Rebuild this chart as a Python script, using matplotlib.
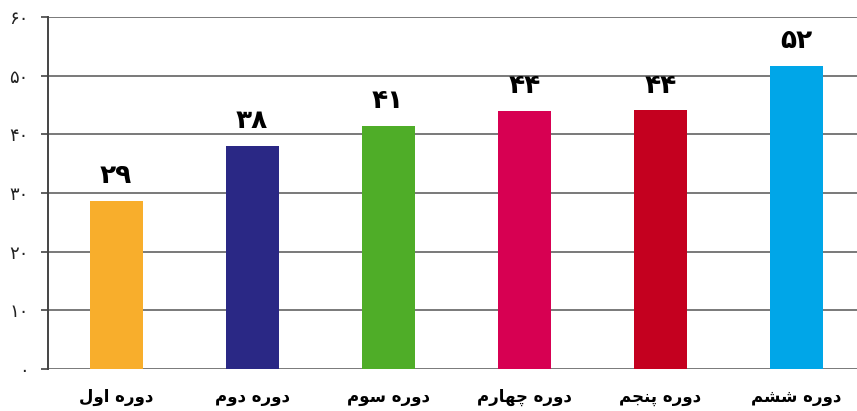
import matplotlib.pyplot as plt

periods = ['دوره اول', 'دوره دوم', 'دوره سوم', 'دوره چهارم', 'دوره پنجم', 'دوره ششم']
values = [28.6, 38.0, 41.4, 44.0, 44.1, 51.7]
colors = ['#F8AE2C', '#2A2885', '#4FAD28', '#D70052', '#C4001F', '#00A6E8']
yticks = [0, 10, 20, 30, 40, 50, 60]

# presentation forms (isolated, final, initial, medial); two-form letters do not join forward
FORMS = {
    'ا': '\uFE8D\uFE8E', 'د': '\uFEA9\uFEAA', 'ر': '\uFEAD\uFEAE', 'و': '\uFEED\uFEEE',
    'ه': '\uFEE9\uFEEA\uFEEB\uFEEC', 'ل': '\uFEDD\uFEDE\uFEDF\uFEE0',
    'م': '\uFEE1\uFEE2\uFEE3\uFEE4', 'س': '\uFEB1\uFEB2\uFEB3\uFEB4',
    'ش': '\uFEB5\uFEB6\uFEB7\uFEB8', 'ن': '\uFEE5\uFEE6\uFEE7\uFEE8',
    'ج': '\uFE9D\uFE9E\uFE9F\uFEA0', 'پ': '\uFB56\uFB57\uFB58\uFB59',
    'چ': '\uFB7A\uFB7B\uFB7C\uFB7D',
}


def shape(text):
    """join persian letters and put them in visual (left to right) order"""
    out = []
    for i, c in enumerate(text):
        if c not in FORMS:
            out.append(c)
            continue
        prev = text[i-1] if i > 0 else ''
        nxt = text[i+1] if i + 1 < len(text) else ''
        before = prev in FORMS and len(FORMS[prev]) == 4
        after = len(FORMS[c]) == 4 and nxt in FORMS
        f = FORMS[c]
        if before and after:
            out.append(f[3])
        elif after:
            out.append(f[2])
        elif before:
            out.append(f[1])
        else:
            out.append(f[0])
    return ''.join(out)[::-1]


def fa_digits(s):
    return str(s).translate(str.maketrans('0123456789', '۰۱۲۳۴۵۶۷۸۹'))


fig = plt.figure(figsize=(8.57, 4.11), dpi=100)
ax = fig.add_axes([48/857, 42/411, 1 - 48/857, 352/411])

x = range(len(values))
ax.bar(x, values, width=0.39, color=colors, zorder=3)
for i, v in enumerate(values):
    ax.text(i, v + 2.0, fa_digits(round(v)), ha='center', va='bottom',
            fontsize=19, fontweight='bold', color='black', zorder=4)

ax.set_xlim(-0.5, 5.445)
ax.set_ylim(0, 60)
ax.set_yticks(yticks)
ax.set_yticklabels([fa_digits(t) for t in yticks], fontsize=13, color='#222222')
ax.set_xticks(list(x))
ax.set_xticklabels([shape(p) for p in periods], fontsize=12, fontweight='bold')
ax.tick_params(axis='x', length=0, pad=14)
ax.tick_params(axis='y', length=5, width=1.2, color='#444444', pad=9)
ax.grid(axis='y', color='#555555', linewidth=1.1, zorder=0)
for s in ['top', 'right', 'bottom']:
    ax.spines[s].set_visible(False)
ax.spines['left'].set_color('#444444')
ax.spines['left'].set_linewidth(1.4)

fig.savefig('out.png', dpi=100)
